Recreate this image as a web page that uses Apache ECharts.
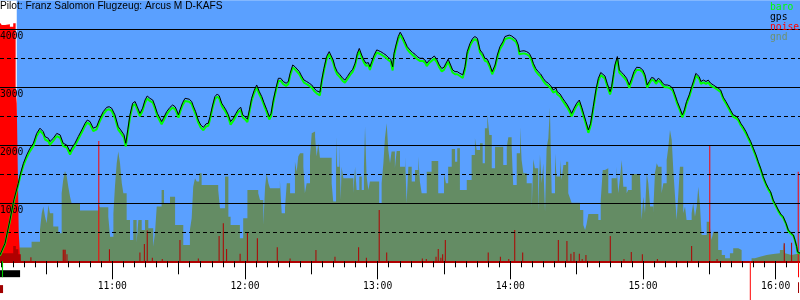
<!DOCTYPE html>
<html><head><meta charset="utf-8">
<script src="https://cdn.jsdelivr.net/npm/echarts@6/dist/echarts.min.js"></script>
<style>html,body{margin:0;padding:0;background:#fff}#c{width:800px;height:300px}</style>
</head><body><div id="c"></div>
<script>
// ---------- DATA (time = minutes since midnight) ----------
const title = 'Pilot: Franz Salomon Flugzeug: Arcus M D-KAFS';
const legendNames = ['baro', 'gps', 'noise', 'gnd'];
const hourTicks = [660, 720, 780, 840, 900, 960];
const hourLabels = ['11:00', '12:00', '13:00', '14:00', '15:00', '16:00'];
const yLabelValues = [1000, 2000, 3000, 4000];
const tStart = 609.22, tEnd = 971.0;
const noSkyUntil = 616.8;

const times = [
609.2,611.5,613.7,615.5,617.5,618.3,619.8,621.3,622.8,624.3,
625.8,627.3,628.1,628.8,629.6,631.1,631.8,633.3,634.9,635.6,
636.4,637.8,639.4,640.1,640.9,641.6,643.1,644.6,646.2,647.7,
648.7,649.9,651.4,652.9,654.4,655.9,657.5,658.6,659.7,661.2,
662.7,663.8,664.7,665.3,666.1,667.0,668.0,669.2,670.3,671.3,
672.5,673.7,674.8,675.8,677.0,678.3,679.3,680.4,681.6,682.3,
683.1,684.6,686.1,687.3,688.4,689.1,689.9,690.6,691.8,692.9,
693.6,694.8,695.9,696.6,697.7,698.9,700.0,701.2,702.4,703.4,
704.2,705.4,706.4,707.5,708.4,709.5,710.5,711.4,712.5,713.5,
714.7,715.9,717.0,718.1,719.0,720.0,721.1,722.0,723.0,724.1,
725.3,726.5,727.6,728.6,729.8,731.0,731.8,732.8,734.0,735.1,
736.2,737.3,738.6,739.6,740.4,741.6,742.6,743.4,744.6,745.6,
746.7,747.9,749.1,750.2,751.2,752.4,753.9,754.7,755.7,756.9,
758.1,758.9,759.9,760.7,761.7,763.0,764.2,765.2,766.3,767.5,
768.7,769.8,770.8,771.7,772.8,773.8,774.7,775.8,776.5,777.3,
778.4,779.6,780.5,781.4,782.6,783.8,784.8,785.9,786.8,787.4,
788.3,789.3,790.2,791.3,792.4,793.4,794.6,795.8,796.9,797.9,
799.1,800.4,801.4,802.2,803.4,804.4,805.6,806.7,807.9,809.0,
810.0,810.9,811.9,813.0,813.9,815.0,816.0,817.2,818.5,819.5,
820.5,821.8,823.0,824.0,825.1,826.3,827.5,828.5,829.6,830.8,
831.8,833.1,834.1,835.3,836.6,837.6,838.4,839.5,840.6,841.3,
842.6,843.6,844.1,845.1,846.2,847.4,848.6,849.7,850.4,851.5,
852.6,853.7,854.9,856.0,857.2,858.3,859.4,860.7,861.2,862.5,
863.7,864.7,865.8,867.0,867.7,868.8,870.0,871.2,872.3,873.3,
874.2,875.3,876.3,877.5,878.7,879.8,880.9,881.8,882.8,883.8,
885.1,885.8,886.6,887.3,888.4,889.3,890.4,891.4,892.6,893.8,
894.9,895.9,897.1,898.6,899.9,900.9,901.9,902.8,903.9,905.0,
905.9,906.9,908.0,908.9,909.9,911.0,912.2,913.4,914.5,915.5,
916.7,917.8,918.7,919.7,920.9,922.0,923.0,923.9,924.7,925.4,
926.2,927.3,928.5,929.5,930.6,931.8,933.0,934.0,935.1,936.3,
937.5,938.6,939.7,940.8,942.0,943.1,944.2,945.3,946.6,947.6,
948.7,949.9,951.1,952.1,953.2,954.4,955.6,956.7,957.7,958.9,
960.1,961.2,962.3,963.4,964.7,965.7,966.8,968.0,968.7,969.5,
969.9,971.0];

const gps = [
110,310,710,1060,1345,1490,1690,1835,1950,2035,
2205,2295,2320,2235,2150,2120,2065,2120,2205,2225,
2180,2035,2005,2005,1890,1950,2035,2150,2265,2380,
2435,2410,2295,2320,2465,2580,2655,2665,2640,2525,
2320,2265,2265,2180,2035,2265,2525,2725,2755,2665,
2550,2640,2780,2850,2810,2780,2680,2550,2465,2410,
2465,2580,2655,2695,2665,2610,2525,2610,2735,2810,
2840,2795,2755,2680,2580,2435,2350,2310,2370,2380,
2495,2695,2840,2885,2850,2725,2665,2610,2525,2410,
2465,2550,2620,2655,2525,2495,2450,2610,2810,2940,
3040,2925,2840,2735,2620,2495,2550,2780,2985,3155,
3155,3100,3070,3100,3240,3385,3355,3345,3270,3195,
3125,3100,3070,3040,2985,2940,2915,3125,3325,3530,
3615,3585,3470,3355,3270,3215,3155,3125,3185,3255,
3310,3415,3585,3670,3555,3470,3415,3425,3355,3440,
3555,3645,3670,3615,3585,3555,3515,3485,3355,3585,
3730,3875,3950,3875,3785,3700,3645,3600,3570,3530,
3500,3500,3470,3415,3470,3500,3540,3485,3385,3325,
3345,3415,3485,3385,3300,3270,3270,3240,3215,3355,
3615,3760,3845,3875,3845,3645,3585,3500,3485,3385,
3270,3385,3555,3700,3785,3875,3900,3900,3885,3890,
3825,3730,3615,3625,3630,3615,3585,3500,3415,3325,
3270,3230,3155,3100,3070,3025,2955,2985,2925,2885,
2810,2755,2695,2610,2550,2640,2725,2780,2655,2525,
2410,2265,2380,2665,2955,3155,3255,3270,3195,3070,
2925,3010,3215,3385,3530,3300,3255,3215,3155,3040,
3155,3270,3345,3340,3300,3215,3040,3100,3170,3155,
3100,3155,3125,3070,3040,3040,3025,2985,2870,2755,
2640,2525,2610,2755,2870,3010,3125,3240,3270,3185,
3100,3125,3100,3125,3070,3040,3010,2985,2955,2830,
2755,2680,2600,2525,2505,2465,2380,2320,2235,2150,
2065,1950,1835,1720,1605,1460,1345,1260,1200,1055,
970,885,815,770,655,540,495,455,370,255,
165,140];

const baro = [
100,300,695,1040,1320,1455,1650,1790,1900,1985,
2160,2250,2270,2190,2100,2070,2010,2075,2160,2180,
2130,1985,1960,1955,1840,1900,1990,2105,2220,2335,
2390,2360,2245,2275,2420,2535,2610,2620,2595,2475,
2270,2215,2220,2130,1980,2215,2480,2680,2710,2620,
2500,2595,2735,2805,2765,2735,2635,2500,2415,2360,
2420,2535,2610,2650,2620,2565,2475,2565,2690,2765,
2795,2750,2710,2635,2535,2390,2305,2260,2325,2335,
2450,2650,2795,2840,2805,2680,2620,2565,2480,2355,
2420,2505,2575,2610,2480,2450,2400,2565,2765,2895,
2995,2880,2795,2690,2575,2445,2505,2735,2940,3110,
3110,3055,3025,3055,3195,3340,3310,3300,3225,3150,
3080,3055,3025,2995,2940,2895,2860,3080,3280,3485,
3570,3540,3425,3310,3225,3170,3110,3080,3140,3210,
3265,3370,3540,3625,3510,3425,3370,3380,3300,3395,
3510,3600,3625,3570,3540,3510,3470,3440,3290,3540,
3685,3830,3905,3830,3740,3655,3600,3555,3525,3485,
3455,3455,3425,3365,3425,3455,3495,3440,3340,3275,
3300,3370,3440,3340,3255,3225,3225,3195,3160,3310,
3570,3715,3800,3830,3800,3600,3540,3455,3440,3340,
3225,3340,3510,3655,3740,3830,3855,3855,3840,3845,
3780,3685,3570,3580,3585,3570,3540,3455,3370,3280,
3225,3185,3110,3055,3025,2980,2910,2940,2880,2840,
2765,2710,2650,2565,2500,2595,2680,2735,2610,2480,
2365,2215,2335,2620,2910,3110,3210,3225,3150,3025,
2875,2965,3170,3340,3485,3255,3210,3170,3110,2990,
3110,3225,3300,3300,3260,3175,2995,3060,3130,3115,
3060,3115,3085,3030,3000,3000,2985,2945,2830,2715,
2600,2480,2570,2715,2830,2970,3085,3200,3230,3145,
3060,3085,3060,3085,3030,3005,2975,2950,2920,2795,
2720,2645,2565,2490,2470,2430,2345,2285,2200,2120,
2035,1920,1805,1695,1580,1435,1320,1235,1175,1035,
950,865,795,750,640,525,480,440,360,245,
155,130];

const gndTimes = [
618.0,623.5,627.3,628.1,628.8,629.6,630.3,631.1,631.8,633.3,635.6,637.1,637.8,638.6,639.4,640.1,640.9,641.6,645.4,653.7,
654.4,658.2,659.0,660.5,661.2,662.0,662.7,663.5,664.3,665.0,666.5,668.0,669.5,671.0,671.8,673.3,674.8,676.3,678.5,679.3,680.1,
682.3,683.4,686.1,688.4,692.1,695.1,695.9,696.6,697.4,698.2,699.3,700.4,707.9,708.7,711.0,712.5,713.5,717.7,719.2,721.1,
726.0,726.8,728.3,729.1,729.8,730.6,731.3,735.8,736.6,738.1,738.9,740.4,742.6,743.4,744.1,744.9,746.4,747.1,747.9,749.4,
750.2,750.9,751.7,752.4,753.2,
753.9,759.2,759.9,761.2,761.7,762.7,763.3,763.7,764.5,769.0,769.8,770.5,771.7,772.8,773.8,774.3,775.0,775.8,776.5,780.7,
781.8,782.6,783.3,784.1,784.8,785.6,786.3,787.8,788.6,790.1,792.4,793.1,793.9,795.4,796.9,798.4,799.1,799.9,802.2,804.4,
807.4,810.0,810.9,811.9,813.5,815.0,816.0,817.2,820.3,822.5,824.0,824.8,
826.3,827.5,828.5,829.6,830.5,831.6,833.1,836.8,838.4,839.1,840.6,841.3,842.9,844.4,845.1,845.9,847.4,849.7,850.4,851.1,
852.6,853.4,854.2,854.9,855.7,856.4,857.2,857.9,858.7,860.2,860.9,862.5,863.2,864.0,865.2,866.2,867.0,867.7,871.5,873.0,
873.8,874.5,875.3,879.8,880.9,881.8,882.8,884.3,885.8,888.1,888.8,889.6,890.4,891.1,892.6,893.3,894.9,
898.6,899.4,900.1,900.9,901.7,902.4,903.2,904.6,905.4,906.2,906.9,908.4,909.2,910.7,911.4,912.2,913.0,913.7,914.5,915.2,
916.0,916.7,918.2,919.0,919.7,922.0,922.7,923.5,924.3,925.0,925.8,926.5,928.8,930.3,931.0,931.8,934.0,935.6,937.1,939.3,
940.8,943.1,944.6,949.1,950.6,952.9,955.9,958.9,961.9,963.4,964.2,965.0,967.2,971.0];
const gndValues = [
236,339,540,828,943,770,655,971,828,598,483,1172,1402,1557,1460,1287,1115,1000,874,971,
931,770,425,828,1287,1690,1891,1690,1345,1172,713,368,713,322,713,540,713,569,253,483,943,
1230,1000,1115,626,282,540,741,1287,1431,1374,1517,1316,1230,914,1460,770,626,397,741,1230,
1172,1057,626,1287,1517,1345,1259,1402,828,914,1345,1172,1718,1546,1805,1862,1632,1172,1345,1805,
2207,2236,2149,1805,2034,
1787,1345,1029,2149,1632,2034,1057,1632,1431,1172,1632,1230,1460,1230,1632,2322,1460,1230,1374,1000,
1345,1690,2121,2379,1920,1690,1891,1603,1902,1632,1805,1000,1632,1374,1575,1805,1374,1172,1546,1730,
1172,1517,1345,1632,1937,1718,1948,1230,1402,1833,2121,1920,
2034,1690,2293,2540,2178,1603,1977,1661,1977,2138,1977,1316,1862,2310,1747,1517,1345,914,1759,1603,
856,1833,1345,1690,856,1948,2121,2649,1172,1862,1460,1747,1402,1661,1718,1172,1086,1011,885,626,
540,644,816,713,1057,1575,1603,1172,1431,1632,1172,1431,1747,1287,1172,1230,1506,
1488,713,1115,828,1517,1345,943,828,1517,1690,1632,1172,1345,1747,1948,2264,2092,1575,1115,713,
1172,1632,828,943,713,828,1000,770,943,1287,943,454,684,569,368,511,195,109,52,138,
224,195,0,52,80,109,126,138,195,339,138,109,138,138];

const engineTimes = [609.2,610.0,611.5,612.2,613.7,615.2,616.3,616.8,617.7,618.4];
const engineNoise = [4115,4075,4045,4085,4045,4105,3000,2725,490,0];
const baseTimes = [609.2,615.2,616.4,617.5,618.6];
const baseNoise = [138,264,207,121,0];

const spikeTimes = [623.2,637.8,638.2,638.7,639.5,653.9,658.7,672.5,674.5,675.8,678.1,682.6,690.6,698.9,708.3,710.2,711.7,717.8,721.1,725.6,
734.6,740.4,752.1,760.7,771.4,774.9,780.7,784.1,800.2,802.0,806.4,807.4,808.6,809.4,810.6,830.0,835.5,839.3,842.0,845.6,
861.7,865.6,867.4,868.8,871.2,872.5,874.2,885.2,891.4,894.7,899.7,906.5,922.0,930.2,933.5,963.9,967.2,970.2];
const spikeNoise = [70,200,200,200,120,2075,207,150,299,529,60,40,368,50,437,655,213,130,500,397,
241,50,195,80,241,60,885,150,50,40,80,213,60,120,368,150,80,40,540,150,
368,350,130,160,130,40,109,437,40,160,120,40,264,1988,40,310,320,1546];

const markers = [
  { kind: 'engine', from: 609.2, to: 618.3 },
  { kind: 'takeoff', from: 610.1, to: 610.6 },
  { kind: 'enl', from: 609.2, to: 610.6 },
  { kind: 'event', from: 948.3, to: 948.7 },
  { kind: 'landing', from: 970.1, to: 970.5 },
  { kind: 'landingEnl', from: 970.1, to: 970.5 }
];

// ---------- STYLE ----------
const MONO = '"DejaVu Sans Mono", monospace';
const FS = 9.7;
const BLUE = '#5aa0ff', GND = '#648c64', DARKRED = '#b00000';
const TRACKS = { engine: [9, 16], takeoff: [0, 16], enl: [24, 32], event: [0, 39], landing: [0, 16], landingEnl: [21, 32] };
const MARKER_COLORS = { engine: '#000', takeoff: '#00c800', enl: '#a00000', event: '#ff0000', landing: '#ff0000', landingEnl: '#a00000' };
const LEGEND_COLORS = { baro: '#00ff00', gps: '#000000', noise: '#ff0000', gnd: '#6e906e' };

const pair = (ts, vs) => ts.map((t, i) => [t, vs[i]]);
const minorTicks = []; for (let t = 610; t <= 970; t += 5) minorTicks.push(t);
const halfTicks = []; for (let t = 630; t <= 960; t += 30) halfTicks.push(t);

const baseX = { type: 'value', gridIndex: 0, min: tStart, max: tEnd, position: 'bottom', splitLine: { show: false }, z: 5 };
const chart = echarts.init(document.getElementById('c'), null, { renderer: 'canvas', width: 800, height: 300 });
chart.setOption({
  animation: false,
  backgroundColor: '#fff',
  grid: [
    { left: 0, right: 0, top: 0.3, bottom: 38.7, backgroundColor: BLUE, show: true, borderWidth: 0, outerBoundsMode: 'none' },
    { left: 0, right: 0, top: 261.3, height: 38.7, show: false, outerBoundsMode: 'none' }
  ],
  xAxis: [
    Object.assign({}, baseX, { axisLine: { show: true, lineStyle: { color: DARKRED, width: 2 } },
      axisTick: { show: true, customValues: minorTicks, length: 6, lineStyle: { color: '#000', width: 1 } }, axisLabel: { show: false } }),
    Object.assign({}, baseX, { axisLine: { show: false },
      axisTick: { show: true, customValues: halfTicks, length: 13, lineStyle: { color: '#000', width: 1 } }, axisLabel: { show: false } }),
    Object.assign({}, baseX, { axisLine: { show: false },
      axisTick: { show: true, customValues: hourTicks, length: 18, lineStyle: { color: '#000', width: 1 } },
      axisLabel: { show: true, customValues: hourTicks, margin: 20, color: '#000', fontFamily: MONO, fontSize: FS,
        formatter: v => hourLabels[hourTicks.indexOf(Math.round(v))] || '' } }),
    { type: 'value', gridIndex: 1, min: tStart, max: tEnd, show: false }
  ],
  yAxis: [
    { type: 'value', gridIndex: 0, min: 0, max: 4500, interval: 500, position: 'left', z: 5,
      axisLine: { show: false }, axisTick: { show: false }, axisLabel: { show: false },
      splitLine: { show: true, showMinLine: false, showMaxLine: false, lineStyle: { color: '#000', width: 1, type: [4, 3] } } },
    { type: 'value', gridIndex: 0, min: 0, max: 4500, interval: 1000, position: 'left', z: 6,
      axisLine: { show: false }, axisTick: { show: false },
      axisLabel: { show: true, inside: true, margin: 0, verticalAlign: 'top', padding: [2, 0, 0, 0], color: '#000', fontFamily: MONO, fontSize: FS,
        formatter: v => yLabelValues.indexOf(v) >= 0 ? String(v) : '' },
      splitLine: { show: true, showMinLine: false, showMaxLine: false, lineStyle: { color: '#000', width: 1, type: 'solid' } } },
    { type: 'value', gridIndex: 1, min: 0, max: 39, inverse: true, show: false }
  ],
  graphic: [
    { type: 'text', x: 0, y: 1.5, z: 100, style: { text: title, font: '10.2px "Liberation Sans", Arial, sans-serif', fill: '#000' } }
  ].concat(legendNames.map((n, i) => ({ type: 'text', x: 770, y: 2.5 + i * 10, z: 100,
    style: { text: n, font: FS + 'px ' + MONO, fill: LEGEND_COLORS[n] } }))),
  series: [
    { name: 'sky', type: 'line', step: 'end', data: [[tStart, 4500], [noSkyUntil, 4500]], symbol: 'none', silent: true,
      lineStyle: { width: 0 }, areaStyle: { color: '#fff', opacity: 1 }, z: 1 },
    { name: 'gnd', type: 'line', step: 'end', data: pair(gndTimes, gndValues), symbol: 'none', silent: true,
      lineStyle: { width: 0 }, areaStyle: { color: GND, opacity: 1 }, z: 2 },
    { name: 'noise', type: 'line', step: 'end', data: pair(engineTimes, engineNoise), symbol: 'none', silent: true,
      lineStyle: { width: 0 }, areaStyle: { color: '#ff0000', opacity: 1 }, z: 3 },
    { name: 'noise low', type: 'line', step: 'end', data: pair(baseTimes, baseNoise), symbol: 'none', silent: true,
      lineStyle: { width: 0 }, areaStyle: { color: DARKRED, opacity: 1 }, z: 4 },
    { name: 'noise spikes', type: 'bar', data: pair(spikeTimes, spikeNoise), barWidth: 1, silent: true,
      itemStyle: { color: p => p.value[1] > 1000 ? '#ff0000' : DARKRED }, z: 4 },
    { name: 'baro', type: 'line', data: pair(times, baro), symbol: 'none', silent: true,
      lineStyle: { color: '#00ff00', width: 2 }, z: 8 },
    { name: 'gps', type: 'line', data: pair(times, gps), symbol: 'none', silent: true,
      lineStyle: { color: '#000', width: 1 }, z: 9 },
    { name: 'markers', type: 'custom', xAxisIndex: 3, yAxisIndex: 2, silent: true, clip: false,
      data: markers.map(m => [m.from, m.to]), encode: { x: [0, 1] },
      renderItem: (params, api) => {
        const m = markers[params.dataIndex];
        const tr = TRACKS[m.kind];
        const a = api.coord([m.from, tr[0]]);
        const b = api.coord([m.to, tr[1]]);
        return { type: 'rect', shape: { x: a[0], y: a[1], width: Math.max(1, b[0] - a[0]), height: b[1] - a[1] },
          style: { fill: MARKER_COLORS[m.kind] } };
      }, z: 10 }
  ]
});
</script></body></html>
